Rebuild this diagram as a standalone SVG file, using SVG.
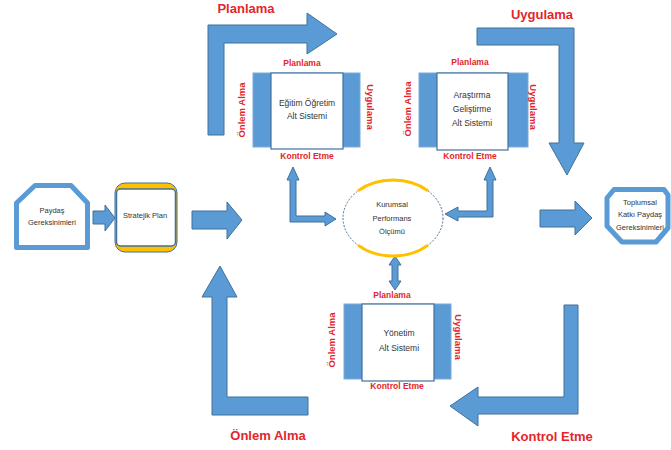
<svg xmlns="http://www.w3.org/2000/svg" width="671" height="450" viewBox="0 0 671 450">
<style>
.big{fill:#5B9BD5;stroke:#41719C;stroke-width:1}
.lbl{font-family:"Liberation Sans",Arial,sans-serif;font-weight:bold;fill:#E3262B;text-anchor:middle}
.l13{font-size:13px}
.l9{font-size:8.5px}
.lr{font-size:9.5px}
.txt{font-family:"Liberation Sans",Arial,sans-serif;fill:#333;text-anchor:middle}
.t9{font-size:8.5px}
.t7{font-size:7.5px}
.outer{fill:#5B9BD5;stroke:#7FA9D8;stroke-width:1}
.inner{fill:#fff;stroke:#41719C;stroke-width:1.2}
</style>
<rect width="671" height="450" fill="#fff"/>

<g id="connectors">
  <polygon class="big" points="208,135 208,25 307,25 307,13 337,34 307,54 307,43 224,43 224,135"/>
  <polygon class="big" points="477,28 574,28 574,143 584,143 567,175 549,143 559,143 559,45 477,45"/>
  <polygon class="big" points="212,415 212,297 202,297 220,266 237,297 227,297 227,397 308,397 308,415"/>
  <polygon class="big" points="578,305 578,414 478,414 478,426 450,406 478,387 478,397 564,397 564,305"/>
  <polygon class="big" points="192,211 227,211 227,202 242,220 227,239 227,229 192,229"/>
  <polygon class="big" points="540,210 575,210 575,201 592,218 575,235 575,227 540,227"/>
  <polygon class="big" points="93,211 105,211 105,205 115,218 105,231 105,224 93,224"/>
  <polygon class="big" points="290,180 287,180 293,167 299,180 296,180 296,216 325,216 325,212 336,219 325,226 325,222 290,222"/>
  <polygon class="big" points="487,180 484,180 490,167 496,180 493,180 493,217 458,217 458,221 445,214 458,207 458,211 487,211"/>
  <polygon class="big" points="395,256 401,265 398,265 398,281 401,281 395,290 389,281 392,281 392,265 389,265"/>
</g>

<g id="lbl-planlama"><text class="lbl l13" x="246" y="13">Planlama</text></g>
<g id="lbl-uygulama"><text class="lbl l13" x="542" y="19">Uygulama</text></g>
<g id="lbl-onlem"><text class="lbl l13" x="268" y="440">Önlem Alma</text></g>
<g id="lbl-kontrol"><text class="lbl l13" x="552" y="441">Kontrol Etme</text></g>

<g id="paydas">
  <polygon points="35,185.5 71,185.5 87.5,203 87.5,247.5 16.5,247.5 16.5,203" fill="#fff" stroke="#5B9BD5" stroke-width="5" stroke-linejoin="round"/>
  <text class="txt t7" x="52" y="213">Paydaş</text>
  <text class="txt t7" x="52" y="225">Gereksinimleri</text>
</g>

<g id="stratejik">
  <rect x="115" y="183" width="62" height="69" rx="10" fill="#FFC000" stroke="#41719C" stroke-width="1"/>
  <rect x="116.5" y="189" width="59" height="57" rx="4" fill="#fff" stroke="#41719C" stroke-width="1.5"/>
  <text class="txt t7" x="145" y="218">Stratejik Plan</text>
</g>

<g id="toplumsal">
  <polygon points="614,189.5 664,189.5 668,195 668,228 656,242 622,242 607,226 607,198" fill="#fff" stroke="#5B9BD5" stroke-width="5" stroke-linejoin="round"/>
  <text class="txt t7" x="640" y="205">Toplumsal</text>
  <text class="txt t7" x="640" y="217">Katkı Paydaş</text>
  <text class="txt t7" x="640" y="230">Gereksinimleri</text>
</g>

<g id="kurumsal">
  <ellipse cx="393" cy="218" rx="50" ry="38" fill="#fff" stroke="#41719C" stroke-width="1" stroke-dasharray="2 1.5"/>
  <path d="M358,190.9 A50,38 0 0 1 428,190.9" fill="none" stroke="#FFC000" stroke-width="3"/>
  <path d="M428,245.1 A50,38 0 0 1 358,245.1" fill="none" stroke="#FFC000" stroke-width="3"/>
  <text class="txt t7" x="392" y="207">Kurumsal</text>
  <text class="txt t7" x="392" y="221">Performans</text>
  <text class="txt t7" x="392" y="234">Ölçümü</text>
</g>

<g id="egitim">
  <rect class="outer" x="253" y="73" width="107" height="74"/>
  <rect class="inner" x="271" y="73" width="72" height="76"/>
  <text class="txt t9" x="307" y="106">Eğitim Öğretim</text>
  <text class="txt t9" x="307" y="119">Alt Sistemi</text>
  <text class="lbl l9" x="302" y="66">Planlama</text>
  <text class="lbl l9" x="307" y="159">Kontrol Etme</text>
  <text class="lbl lr" transform="translate(245,110) rotate(-90)" x="0" y="0">Önlem Alma</text>
  <text class="lbl lr" transform="translate(367,107) rotate(90)" x="0" y="0">Uygulama</text>
</g>

<g id="arastirma">
  <rect class="outer" x="419" y="73" width="109" height="74"/>
  <rect class="inner" x="437" y="73" width="71" height="77"/>
  <text class="txt t9" x="472" y="98">Araştırma</text>
  <text class="txt t9" x="472" y="112">Geliştirme</text>
  <text class="txt t9" x="472" y="126">Alt Sistemi</text>
  <text class="lbl l9" x="470" y="65">Planlama</text>
  <text class="lbl l9" x="470" y="159">Kontrol Etme</text>
  <text class="lbl lr" transform="translate(411,109) rotate(-90)" x="0" y="0">Önlem Alma</text>
  <text class="lbl lr" transform="translate(530,107) rotate(90)" x="0" y="0">Uygulama</text>
</g>

<g id="yonetim">
  <rect class="outer" x="344" y="304" width="107" height="75"/>
  <rect class="inner" x="362" y="304" width="72" height="77"/>
  <text class="txt t9" x="399" y="336">Yönetim</text>
  <text class="txt t9" x="399" y="351">Alt Sistemi</text>
  <text class="lbl l9" x="392" y="298">Planlama</text>
  <text class="lbl l9" x="397" y="389">Kontrol Etme</text>
  <text class="lbl lr" transform="translate(335,340) rotate(-90)" x="0" y="0">Önlem Alma</text>
  <text class="lbl lr" transform="translate(455,337) rotate(90)" x="0" y="0">Uygulama</text>
</g>
</svg>
